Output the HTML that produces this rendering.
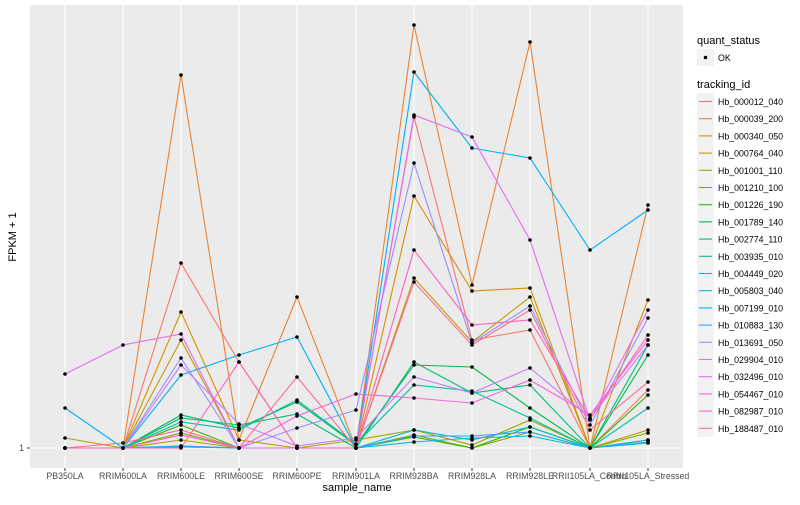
<!DOCTYPE html>
<html><head><meta charset="utf-8"><style>
body{margin:0;background:#fff;font-family:"Liberation Sans",sans-serif}
svg text{font-family:"Liberation Sans",sans-serif}
</style></head><body>
<svg id="s" width="800" height="500" xmlns="http://www.w3.org/2000/svg">
<rect x="30" y="5" width="653" height="463" fill="#ebebeb"/>
<g id="grid"></g><g id="lines"></g><g id="pts"></g>
<text x="24" y="451" font-size="8.8" fill="#4d4d4d" text-anchor="end">1</text>
<line x1="27" y1="448" x2="30" y2="448" stroke="#333" stroke-width="1"/>
<g id="xl" font-size="8.8" fill="#4d4d4d" text-anchor="middle"></g>
<text x="357" y="491" font-size="11" fill="#000" text-anchor="middle">sample_name</text>
<text transform="translate(16,237) rotate(-90)" font-size="11" fill="#000" text-anchor="middle">FPKM + 1</text>
<text x="697" y="44" font-size="11">quant_status</text>
<rect x="697" y="49" width="17" height="17" fill="#f2f2f2"/>
<circle cx="705.5" cy="57.5" r="1.8" fill="#000"/>
<text x="718" y="61" font-size="8.8">OK</text>
<text x="697" y="88" font-size="11">tracking_id</text>
<g id="leg" font-size="8.8"></g>
</svg>
<script>
var xs=[65,123,181,239,297,356,414,472,530,590,648];
var names=["PB350LA","RRIM600LA","RRIM600LE","RRIM600SE","RRIM600PE","RRIM901LA","RRIM928BA","RRIM928LA","RRIM928LE","RRII105LA_Control","RRII105LA_Stressed"];
var cols=["#F8766D","#EA8331","#D89000","#C09B00","#A3A500","#7CAE00","#39B600","#00BB4E","#00BF7D","#00C1A3","#00BFC4","#00BAE0","#00B0F6","#35A2FF","#9590FF","#C77CFF","#E76BF3","#FA62DB","#FF62BC","#FF6C91"];
var ids=["Hb_000012_040","Hb_000039_200","Hb_000340_050","Hb_000764_040","Hb_001001_110","Hb_001210_100","Hb_001226_190","Hb_001789_140","Hb_002774_110","Hb_003935_010","Hb_004449_020","Hb_005803_040","Hb_007199_010","Hb_010883_130","Hb_013691_050","Hb_029904_010","Hb_032496_010","Hb_054467_010","Hb_082987_010","Hb_188487_010"];
var B=448;
var d=[
[B,B,263,362,B,B,117,340,330,448,390],
[B,B,75,440,297,B,25,285,42,448,205],
[B,B,312,440,448,B,196,291,288,448,300],
[438,B,340,448,448,B,278,342,297,448,430],
[B,B,440,448,448,440,430,445,420,448,440],
[B,B,433,448,448,B,435,448,432,448,433],
[B,B,425,448,448,B,437,448,427,448,395],
[B,B,415,428,402,445,365,367,408,448,355],
[B,B,418,425,414,B,362,393,385,448,345],
[B,B,422,430,400,444,385,391,418,448,408],
[B,B,446,448,448,B,430,440,427,448,440],
[B,B,447,448,448,B,442,438,436,448,443],
[408,B,375,355,337,B,72,148,158,250,210],
[B,B,446,448,448,B,436,436,432,448,442],
[B,B,358,448,428,410,163,343,306,425,318],
[B,B,365,424,446,438,377,393,368,418,345],
[374,345,334,448,448,B,115,137,240,420,310],
[B,B,435,448,416,394,398,403,380,415,340],
[B,B,448,362,448,B,250,325,320,419,335],
[B,443,430,448,377,B,282,345,310,430,382]];
var g='';
xs.forEach(function(x,i){g+='<line x1="'+x+'" y1="5" x2="'+x+'" y2="468" stroke="#fff" stroke-width="1.1"/>';});
g+='<line x1="30" y1="448" x2="683" y2="448" stroke="#fff" stroke-width="1.1"/>';
document.getElementById('grid').innerHTML=g;
var l='',p='';
d.forEach(function(r,k){l+='<polyline fill="none" stroke="'+cols[k]+'" stroke-width="1.1" points="'+r.map(function(y,i){return xs[i]+','+y}).join(' ')+'"/>';
r.forEach(function(y,i){p+='<circle cx="'+xs[i]+'" cy="'+y+'" r="1.8" fill="#000"/>';});});
document.getElementById('lines').innerHTML=l;document.getElementById('pts').innerHTML=p;
var t='';xs.forEach(function(x,i){t+='<line x1="'+x+'" y1="468" x2="'+x+'" y2="471" stroke="#333"/><text x="'+x+'" y="479">'+names[i]+'</text>';});
document.getElementById('xl').innerHTML=t;
var lg='';ids.forEach(function(n,k){var y=93+k*17.2;lg+='<rect x="697" y="'+y+'" width="17" height="17" fill="#f2f2f2"/><line x1="699" y1="'+(y+8.5)+'" x2="712" y2="'+(y+8.5)+'" stroke="'+cols[k]+'" stroke-width="1.1"/><text x="718" y="'+(y+12)+'">'+n+'</text>';});
document.getElementById('leg').innerHTML=lg;
</script>
</body></html>
